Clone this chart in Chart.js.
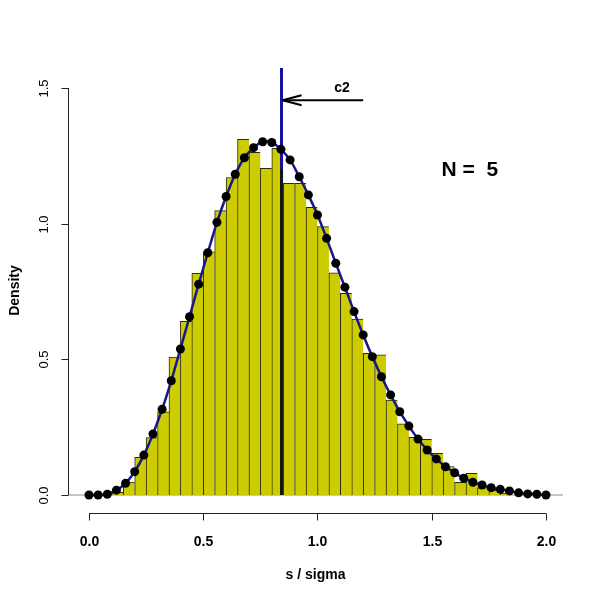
<!DOCTYPE html>
<html>
<head>
<meta charset="utf-8">
<script src="https://cdn.jsdelivr.net/npm/chart.js@4/dist/chart.umd.min.js"></script>
<style>
  html, body { margin: 0; padding: 0; background: #fff; }
  canvas { display: block; }
</style>
</head>
<body>
<canvas id="chart" width="600" height="600"></canvas>
<script>
// histogram of s / sigma, bins of width 0.05 (mid points)
var binMids = [0.125, 0.175, 0.225, 0.275, 0.325, 0.375, 0.425, 0.475, 0.525, 0.575,
  0.625, 0.675, 0.725, 0.775, 0.825, 0.875, 0.925, 0.975, 1.025, 1.075,
  1.125, 1.175, 1.225, 1.275, 1.325, 1.375, 1.425, 1.475, 1.525, 1.575,
  1.625, 1.675, 1.725, 1.775, 1.825];
var binDensity = [0.010, 0.048, 0.139, 0.212, 0.307, 0.508, 0.640, 0.817, 0.896, 1.048,
  1.170, 1.311, 1.263, 1.204, 1.278, 1.149, 1.149, 1.060, 0.989, 0.819,
  0.743, 0.648, 0.522, 0.517, 0.350, 0.262, 0.213, 0.205, 0.154, 0.105,
  0.047, 0.080, 0.027, 0.017, 0.007];

// theoretical density, points every 0.04
var curveX = [0.00, 0.04, 0.08, 0.12, 0.16, 0.20, 0.24, 0.28, 0.32, 0.36,
  0.40, 0.44, 0.48, 0.52, 0.56, 0.60, 0.64, 0.68, 0.72, 0.76,
  0.80, 0.84, 0.88, 0.92, 0.96, 1.00, 1.04, 1.08, 1.12, 1.16,
  1.20, 1.24, 1.28, 1.32, 1.36, 1.40, 1.44, 1.48, 1.52, 1.56,
  1.60, 1.64, 1.68, 1.72, 1.76, 1.80, 1.84, 1.88, 1.92, 1.96, 2.00];
var curveY = [0.000, 0.000, 0.003, 0.018, 0.043, 0.086, 0.147, 0.225, 0.316, 0.421,
  0.538, 0.657, 0.777, 0.893, 1.005, 1.100, 1.182, 1.243, 1.280, 1.302,
  1.299, 1.274, 1.235, 1.173, 1.106, 1.032, 0.946, 0.854, 0.766, 0.676,
  0.590, 0.510, 0.436, 0.369, 0.307, 0.254, 0.206, 0.166, 0.133, 0.104,
  0.082, 0.062, 0.047, 0.037, 0.027, 0.021, 0.015, 0.008, 0.004, 0.003, 0.000];

var xTicks = [0, 0.5, 1, 1.5, 2];
var xTickLabels = ['0.0', '0.5', '1.0', '1.5', '2.0'];
var yTicks = [0, 0.5, 1, 1.5];
var yTickLabels = ['0.0', '0.5', '1.0', '1.5'];

var c2 = 0.8407;
var c2Label = 'c2';
var arrowStart = 1.2;
var arrowY = 1.455;
var nLabel = 'N =  5';
var xTitle = 's / sigma';
var yTitle = 'Density';

var FONT = '"Liberation Sans", Arial, Helvetica, sans-serif';

function seg(ctx, x1, y1, x2, y2) {
    ctx.beginPath();
    ctx.moveTo(x1, y1);
    ctx.lineTo(x2, y2);
    ctx.stroke();
}

var rStyle = {
    id: 'rStyle',
    beforeDatasetsDraw: function (chart) {
        var ctx = chart.ctx, a = chart.chartArea, ys = chart.scales.y;
        ctx.save();
        ctx.strokeStyle = '#8c8c8c';
        ctx.lineWidth = 1;
        seg(ctx, a.left, ys.getPixelForValue(0), a.right, ys.getPixelForValue(0));
        ctx.restore();
    },
    afterDatasetDraw: function (chart, args) {
        // vertical c2 line goes over the bars, under the curve
        if (args.index !== 1) return;
        var ctx = chart.ctx, a = chart.chartArea, xs = chart.scales.x, ys = chart.scales.y;
        var px = Math.round(xs.getPixelForValue(c2)) + 0.5;
        ctx.save();
        ctx.lineWidth = 3;
        ctx.strokeStyle = '#1414a0';
        seg(ctx, px, a.top, px, ys.getPixelForValue(0));
        ctx.strokeStyle = '#141414';
        seg(ctx, px, ys.getPixelForValue(1.2), px, ys.getPixelForValue(0));
        ctx.restore();
    },
    afterDraw: function (chart) {
        var ctx = chart.ctx, a = chart.chartArea, xs = chart.scales.x, ys = chart.scales.y;
        var i, p;
        ctx.save();
        ctx.strokeStyle = '#222';
        ctx.fillStyle = '#000';
        ctx.lineWidth = 1;

        // x axis
        var xb = a.bottom + 0.5;
        seg(ctx, xs.getPixelForValue(xTicks[0]), xb, xs.getPixelForValue(xTicks[xTicks.length - 1]), xb);
        ctx.font = 'bold 14px ' + FONT;
        ctx.textAlign = 'center';
        ctx.textBaseline = 'middle';
        for (i = 0; i < xTicks.length; i++) {
            p = Math.round(xs.getPixelForValue(xTicks[i])) + 0.5;
            seg(ctx, p, xb, p, xb + 7);
            ctx.fillText(xTickLabels[i], p, a.bottom + 29);
        }
        ctx.fillText(xTitle, (a.left + a.right) / 2, a.bottom + 62);

        // y axis
        var yl = a.left + 0.5;
        seg(ctx, yl, ys.getPixelForValue(yTicks[0]), yl, ys.getPixelForValue(yTicks[yTicks.length - 1]));
        for (i = 0; i < yTicks.length; i++) {
            p = Math.round(ys.getPixelForValue(yTicks[i])) + 0.5;
            seg(ctx, yl, p, yl - 7, p);
            ctx.save();
            ctx.translate(a.left - 24, p);
            ctx.rotate(-Math.PI / 2);
            ctx.font = '13px ' + FONT;
            ctx.fillText(yTickLabels[i], 0, 0);
            ctx.restore();
        }
        ctx.save();
        ctx.translate(15, (a.top + a.bottom) / 2);
        ctx.rotate(-Math.PI / 2);
        ctx.font = 'bold 14px ' + FONT;
        ctx.fillText(yTitle, 0, 0);
        ctx.restore();

        // annotation arrow to c2
        var ax0 = xs.getPixelForValue(arrowStart), ax1 = xs.getPixelForValue(c2) + 1.5;
        var ay = ys.getPixelForValue(arrowY);
        ctx.strokeStyle = '#000';
        ctx.lineWidth = 2;
        seg(ctx, ax0, ay, ax1, ay);
        seg(ctx, ax1, ay, ax1 + 19, ay - 5);
        seg(ctx, ax1, ay, ax1 + 19, ay + 5);
        ctx.font = 'bold 14px ' + FONT;
        ctx.fillText(c2Label, xs.getPixelForValue(1.107), ys.getPixelForValue(1.5));

        ctx.font = 'bold 21px ' + FONT;
        ctx.fillText(nLabel, xs.getPixelForValue(1.667), ys.getPixelForValue(1.198));
        ctx.restore();
    }
};

var lastBin = binMids.length - 1;

new Chart(document.getElementById('chart'), {
    type: 'bar',
    data: {
        datasets: [{
            type: 'line',
            data: curveX.map(function (x, i) { return { x: x, y: curveY[i] }; }),
            borderColor: '#17178f',
            borderWidth: 2.5,
            tension: 0.3,
            pointRadius: 4.5,
            pointBackgroundColor: '#000',
            pointBorderColor: '#000',
            pointBorderWidth: 0,
            order: 0
        }, {
            type: 'bar',
            data: binMids.map(function (x, i) { return { x: x, y: binDensity[i] }; }),
            backgroundColor: '#cccc00',
            borderColor: '#2a2a10',
            borderWidth: function (c) {
                return { left: 1, top: 1, bottom: 0, right: c.dataIndex === lastBin ? 1 : 0 };
            },
            borderSkipped: false,
            barPercentage: 1,
            categoryPercentage: 1,
            grouped: false,
            order: 1
        }]
    },
    options: {
        responsive: false,
        animation: false,
        events: [],
        layout: { padding: { left: 68, right: 37, top: 68, bottom: 87 } },
        plugins: { legend: { display: false }, tooltip: { enabled: false } },
        scales: {
            x: {
                type: 'linear',
                display: false,
                offset: false,
                min: -0.0919,
                max: 2.0744,
                afterBuildTicks: function (s) { s.ticks = xTicks.map(function (v) { return { value: v }; }); }
            },
            y: {
                type: 'linear',
                display: false,
                min: -0.0663,
                max: 1.5737,
                afterBuildTicks: function (s) { s.ticks = yTicks.map(function (v) { return { value: v }; }); }
            }
        }
    },
    plugins: [rStyle]
});
</script>
</body>
</html>
